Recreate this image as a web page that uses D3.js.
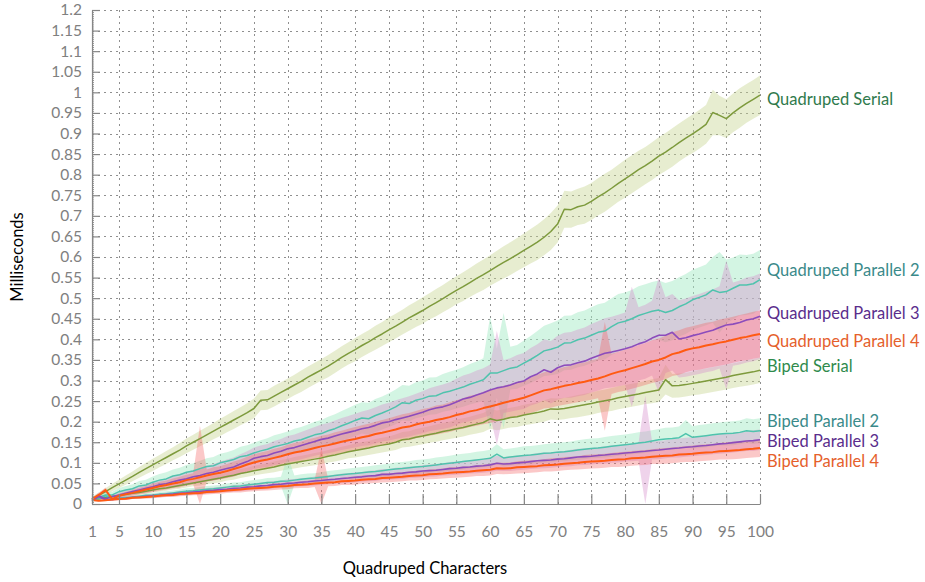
<!DOCTYPE html>
<html>
<head>
<meta charset="utf-8">
<script src="https://cdn.jsdelivr.net/npm/d3@7"></script>
<style>
  body { margin: 0; background: #fff; }
  svg text { font-family: Lato, "Open Sans", sans-serif; }
</style>
</head>
<body>
<svg id="chart" width="925" height="582"></svg>
<script>
// Number of quadruped characters animated (x axis)
const characters = d3.range(1, 101);

// Mean update time in milliseconds, one value per character count
const quadSerial = [
  0.012,0.021,0.030,0.040,0.049,0.058,0.067,0.077,0.086,0.095,
  0.104,0.113,0.122,0.131,0.141,0.150,0.159,0.168,0.177,0.186,
  0.195,0.204,0.213,0.222,0.232,0.252,0.253,0.262,0.271,0.280,
  0.289,0.298,0.308,0.317,0.326,0.335,0.345,0.356,0.366,0.375,
  0.385,0.394,0.404,0.413,0.423,0.432,0.442,0.452,0.461,0.470,
  0.480,0.489,0.499,0.509,0.519,0.528,0.538,0.548,0.557,0.567,
  0.577,0.587,0.596,0.606,0.616,0.626,0.636,0.648,0.662,0.680,
  0.716,0.715,0.722,0.726,0.735,0.746,0.756,0.767,0.779,0.790,
  0.801,0.812,0.822,0.833,0.845,0.855,0.866,0.878,0.889,0.899,
  0.910,0.922,0.951,0.944,0.936,0.950,0.962,0.973,0.983,0.993
];
const quadPar2 = [
  0.012,0.016,0.022,0.022,0.030,0.034,0.037,0.044,0.046,0.053,
  0.058,0.061,0.068,0.071,0.077,0.080,0.086,0.091,0.093,0.100,
  0.104,0.108,0.115,0.118,0.124,0.129,0.133,0.139,0.143,0.147,
  0.153,0.156,0.162,0.168,0.171,0.178,0.183,0.190,0.196,0.203,
  0.209,0.207,0.215,0.221,0.228,0.236,0.246,0.244,0.252,0.256,
  0.262,0.263,0.270,0.274,0.279,0.284,0.291,0.296,0.302,0.318,
  0.318,0.324,0.330,0.333,0.342,0.351,0.361,0.372,0.376,0.381,
  0.391,0.392,0.399,0.403,0.410,0.417,0.420,0.431,0.440,0.444,
  0.450,0.458,0.463,0.468,0.471,0.465,0.470,0.479,0.486,0.496,
  0.502,0.508,0.520,0.514,0.516,0.524,0.532,0.532,0.535,0.545
];
const quadPar3 = [
  0.010,0.020,0.012,0.018,0.022,0.026,0.030,0.034,0.038,0.042,
  0.047,0.049,0.054,0.058,0.061,0.066,0.069,0.074,0.077,0.082,
  0.086,0.090,0.097,0.103,0.111,0.115,0.118,0.124,0.128,0.134,
  0.137,0.142,0.147,0.152,0.157,0.160,0.165,0.170,0.174,0.178,
  0.183,0.186,0.191,0.197,0.200,0.205,0.209,0.213,0.218,0.223,
  0.229,0.233,0.236,0.241,0.248,0.255,0.259,0.265,0.270,0.277,
  0.282,0.285,0.289,0.295,0.299,0.309,0.316,0.326,0.320,0.331,
  0.337,0.338,0.343,0.347,0.354,0.360,0.366,0.369,0.373,0.377,
  0.382,0.389,0.394,0.403,0.410,0.410,0.417,0.401,0.404,0.409,
  0.413,0.418,0.422,0.429,0.435,0.437,0.441,0.447,0.450,0.456
];
const quadPar4 = [
  0.012,0.022,0.034,0.012,0.020,0.024,0.027,0.031,0.035,0.039,
  0.043,0.046,0.050,0.053,0.058,0.061,0.065,0.069,0.073,0.076,
  0.080,0.085,0.090,0.096,0.101,0.105,0.108,0.112,0.116,0.121,
  0.125,0.128,0.132,0.136,0.140,0.143,0.147,0.151,0.155,0.158,
  0.162,0.165,0.170,0.173,0.177,0.181,0.186,0.188,0.193,0.197,
  0.200,0.204,0.207,0.211,0.216,0.220,0.225,0.228,0.233,0.237,
  0.241,0.246,0.250,0.254,0.258,0.264,0.270,0.276,0.279,0.283,
  0.287,0.290,0.294,0.297,0.301,0.305,0.310,0.316,0.321,0.325,
  0.330,0.335,0.340,0.346,0.350,0.356,0.364,0.368,0.374,0.378,
  0.381,0.385,0.388,0.392,0.395,0.399,0.403,0.406,0.410,0.413
];
const bipedSerial = [
  0.010,0.013,0.016,0.018,0.020,0.023,0.026,0.028,0.031,0.034,
  0.037,0.039,0.042,0.045,0.048,0.051,0.054,0.057,0.060,0.063,
  0.067,0.070,0.074,0.077,0.081,0.084,0.087,0.090,0.094,0.097,
  0.100,0.103,0.106,0.109,0.112,0.116,0.119,0.123,0.127,0.130,
  0.133,0.136,0.140,0.143,0.146,0.150,0.156,0.158,0.162,0.165,
  0.169,0.172,0.176,0.179,0.183,0.186,0.190,0.194,0.198,0.207,
  0.203,0.206,0.210,0.212,0.216,0.219,0.222,0.226,0.231,0.230,
  0.232,0.235,0.238,0.241,0.244,0.248,0.251,0.254,0.258,0.261,
  0.264,0.267,0.271,0.274,0.277,0.302,0.287,0.288,0.290,0.293,
  0.296,0.299,0.302,0.305,0.308,0.312,0.315,0.318,0.321,0.325
];
const bipedPar2 = [
  0.008,0.012,0.020,0.012,0.014,0.016,0.017,0.019,0.021,0.022,
  0.024,0.025,0.027,0.029,0.031,0.032,0.034,0.036,0.037,0.039,
  0.041,0.043,0.044,0.046,0.048,0.050,0.052,0.053,0.055,0.056,
  0.058,0.060,0.062,0.063,0.065,0.067,0.069,0.071,0.073,0.074,
  0.076,0.078,0.079,0.081,0.083,0.085,0.086,0.088,0.090,0.091,
  0.093,0.095,0.097,0.099,0.101,0.103,0.105,0.107,0.109,0.111,
  0.121,0.112,0.114,0.116,0.118,0.119,0.121,0.123,0.124,0.126,
  0.127,0.129,0.131,0.133,0.135,0.136,0.138,0.140,0.142,0.144,
  0.146,0.148,0.150,0.153,0.156,0.158,0.159,0.161,0.171,0.162,
  0.164,0.166,0.168,0.170,0.171,0.172,0.174,0.178,0.176,0.178
];
const bipedPar3 = [
  0.008,0.018,0.010,0.011,0.013,0.014,0.016,0.017,0.019,0.020,
  0.021,0.023,0.024,0.026,0.027,0.029,0.030,0.032,0.033,0.035,
  0.036,0.038,0.039,0.041,0.042,0.044,0.045,0.047,0.048,0.050,
  0.051,0.053,0.054,0.056,0.057,0.059,0.060,0.062,0.063,0.065,
  0.066,0.068,0.069,0.072,0.072,0.074,0.075,0.077,0.078,0.080,
  0.081,0.082,0.084,0.086,0.087,0.089,0.090,0.092,0.093,0.095,
  0.099,0.097,0.098,0.100,0.101,0.103,0.105,0.106,0.107,0.109,
  0.110,0.112,0.114,0.115,0.116,0.118,0.119,0.121,0.122,0.124,
  0.125,0.127,0.128,0.130,0.131,0.133,0.135,0.136,0.138,0.139,
  0.141,0.142,0.144,0.146,0.147,0.149,0.151,0.153,0.154,0.156
];
const bipedPar4 = [
  0.010,0.008,0.009,0.011,0.012,0.013,0.015,0.016,0.017,0.018,
  0.020,0.021,0.022,0.024,0.025,0.026,0.027,0.029,0.030,0.031,
  0.033,0.034,0.035,0.037,0.038,0.039,0.040,0.042,0.043,0.044,
  0.046,0.047,0.048,0.050,0.051,0.052,0.053,0.055,0.056,0.057,
  0.059,0.060,0.061,0.063,0.064,0.065,0.066,0.068,0.069,0.070,
  0.072,0.073,0.074,0.076,0.077,0.078,0.079,0.081,0.082,0.083,
  0.087,0.086,0.087,0.089,0.090,0.091,0.092,0.094,0.095,0.096,
  0.098,0.099,0.100,0.102,0.103,0.104,0.105,0.107,0.108,0.109,
  0.111,0.112,0.113,0.115,0.116,0.117,0.118,0.120,0.121,0.122,
  0.124,0.125,0.126,0.128,0.129,0.130,0.131,0.133,0.134,0.136
];

// Standard deviation of the update time (shaded bands)
const quadSerialSd = [
  0.006,0.007,0.008,0.009,0.010,0.011,0.012,0.013,0.014,0.015,
  0.015,0.016,0.016,0.017,0.018,0.018,0.019,0.019,0.020,0.021,
  0.021,0.022,0.022,0.023,0.024,0.024,0.024,0.025,0.025,0.025,
  0.025,0.026,0.026,0.026,0.026,0.027,0.027,0.027,0.027,0.028,
  0.028,0.028,0.029,0.029,0.030,0.030,0.030,0.031,0.031,0.032,
  0.032,0.033,0.033,0.034,0.034,0.035,0.035,0.036,0.037,0.037,
  0.038,0.039,0.040,0.040,0.041,0.042,0.043,0.044,0.045,0.045,
  0.045,0.044,0.044,0.045,0.045,0.045,0.046,0.045,0.045,0.046,
  0.046,0.046,0.045,0.046,0.046,0.046,0.047,0.046,0.046,0.047,
  0.047,0.047,0.055,0.048,0.047,0.047,0.048,0.047,0.047,0.048
];
const quadPar2Sd = [
  0.004,0.005,0.007,0.008,0.009,0.010,0.011,0.012,0.013,0.014,
  0.015,0.016,0.016,0.017,0.018,0.019,0.019,0.020,0.021,0.022,
  0.022,0.023,0.024,0.025,0.025,0.026,0.027,0.028,0.028,0.029,
  0.030,0.031,0.031,0.032,0.033,0.034,0.035,0.036,0.037,0.038,
  0.038,0.039,0.040,0.040,0.041,0.042,0.043,0.043,0.044,0.044,
  0.045,0.045,0.046,0.047,0.047,0.048,0.049,0.050,0.052,0.137,
  0.060,0.140,0.052,0.053,0.055,0.057,0.059,0.061,0.063,0.065,
  0.066,0.066,0.067,0.067,0.068,0.068,0.069,0.069,0.070,0.070,
  0.070,0.071,0.071,0.071,0.072,0.072,0.072,0.072,0.073,0.073,
  0.073,0.074,0.080,0.098,0.078,0.075,0.074,0.073,0.073,0.072
];
const quadPar3Sd = [
  0.003,0.008,0.004,0.005,0.006,0.007,0.008,0.009,0.010,0.011,
  0.012,0.013,0.014,0.015,0.016,0.017,0.018,0.019,0.020,0.021,
  0.022,0.023,0.024,0.025,0.026,0.027,0.028,0.029,0.030,0.031,
  0.032,0.033,0.034,0.035,0.036,0.037,0.038,0.039,0.040,0.041,
  0.042,0.043,0.044,0.045,0.046,0.047,0.048,0.049,0.050,0.051,
  0.052,0.053,0.054,0.055,0.056,0.057,0.058,0.059,0.060,0.062,
  0.138,0.064,0.065,0.067,0.068,0.070,0.072,0.074,0.076,0.078,
  0.079,0.080,0.081,0.082,0.083,0.084,0.085,0.086,0.087,0.088,
  0.146,0.089,0.090,0.091,0.140,0.092,0.093,0.094,0.095,0.096,
  0.097,0.098,0.099,0.100,0.156,0.101,0.102,0.103,0.103,0.104
];
const quadPar4Sd = [
  0.003,0.005,0.006,0.004,0.005,0.006,0.007,0.008,0.009,0.010,
  0.011,0.011,0.012,0.013,0.013,0.014,0.125,0.015,0.016,0.016,
  0.017,0.018,0.018,0.019,0.020,0.020,0.021,0.022,0.022,0.023,
  0.023,0.024,0.025,0.025,0.026,0.026,0.027,0.027,0.028,0.029,
  0.029,0.030,0.030,0.031,0.031,0.032,0.032,0.033,0.033,0.034,
  0.034,0.035,0.035,0.036,0.036,0.037,0.038,0.038,0.039,0.040,
  0.040,0.041,0.041,0.042,0.042,0.043,0.044,0.044,0.045,0.045,
  0.046,0.046,0.047,0.047,0.048,0.048,0.132,0.049,0.049,0.050,
  0.050,0.051,0.051,0.052,0.052,0.053,0.053,0.054,0.054,0.054,
  0.055,0.055,0.055,0.056,0.056,0.056,0.056,0.057,0.057,0.057
];
const bipedSerialSd = [
  0.002,0.003,0.003,0.004,0.004,0.005,0.005,0.005,0.006,0.006,
  0.007,0.007,0.007,0.008,0.008,0.008,0.009,0.009,0.010,0.010,
  0.010,0.011,0.011,0.011,0.012,0.012,0.012,0.013,0.013,0.013,
  0.014,0.014,0.014,0.015,0.015,0.015,0.016,0.016,0.016,0.017,
  0.017,0.017,0.018,0.018,0.018,0.019,0.019,0.019,0.020,0.020,
  0.020,0.021,0.021,0.021,0.022,0.022,0.022,0.023,0.023,0.024,
  0.024,0.024,0.024,0.025,0.025,0.025,0.025,0.026,0.026,0.026,
  0.026,0.026,0.027,0.027,0.027,0.027,0.027,0.028,0.028,0.028,
  0.028,0.028,0.028,0.029,0.029,0.036,0.029,0.029,0.029,0.029,
  0.030,0.030,0.030,0.030,0.030,0.030,0.030,0.031,0.031,0.031
];
const bipedPar2Sd = [
  0.002,0.003,0.004,0.003,0.003,0.004,0.004,0.004,0.005,0.005,
  0.005,0.006,0.006,0.006,0.007,0.007,0.007,0.008,0.008,0.008,
  0.009,0.009,0.009,0.010,0.010,0.010,0.011,0.011,0.011,0.060,
  0.011,0.012,0.012,0.012,0.012,0.013,0.013,0.013,0.013,0.014,
  0.014,0.014,0.015,0.015,0.015,0.016,0.016,0.016,0.017,0.017,
  0.017,0.018,0.018,0.018,0.019,0.019,0.019,0.020,0.020,0.021,
  0.024,0.021,0.021,0.021,0.022,0.022,0.022,0.022,0.023,0.023,
  0.023,0.023,0.024,0.024,0.024,0.024,0.025,0.025,0.025,0.025,
  0.025,0.026,0.026,0.026,0.026,0.027,0.027,0.027,0.033,0.027,
  0.028,0.028,0.028,0.028,0.029,0.029,0.029,0.030,0.030,0.030
];
const bipedPar3Sd = [
  0.002,0.005,0.003,0.003,0.003,0.004,0.004,0.004,0.004,0.005,
  0.005,0.005,0.005,0.006,0.006,0.006,0.006,0.007,0.007,0.007,
  0.007,0.008,0.008,0.008,0.008,0.009,0.009,0.009,0.009,0.010,
  0.010,0.010,0.010,0.011,0.011,0.011,0.011,0.012,0.012,0.012,
  0.012,0.013,0.013,0.013,0.013,0.014,0.014,0.014,0.014,0.015,
  0.015,0.015,0.015,0.016,0.016,0.016,0.016,0.017,0.017,0.017,
  0.018,0.017,0.018,0.018,0.018,0.018,0.019,0.019,0.019,0.019,
  0.019,0.020,0.020,0.020,0.020,0.020,0.021,0.021,0.021,0.021,
  0.021,0.022,0.135,0.022,0.022,0.022,0.022,0.023,0.023,0.023,
  0.023,0.023,0.023,0.024,0.024,0.024,0.024,0.024,0.025,0.025
];
const bipedPar4Sd = [
  0.002,0.002,0.002,0.003,0.003,0.003,0.003,0.003,0.004,0.004,
  0.004,0.004,0.005,0.005,0.005,0.005,0.005,0.006,0.006,0.006,
  0.006,0.006,0.007,0.007,0.007,0.007,0.007,0.008,0.008,0.008,
  0.008,0.008,0.009,0.009,0.085,0.009,0.009,0.009,0.010,0.010,
  0.010,0.010,0.010,0.011,0.011,0.011,0.011,0.011,0.012,0.012,
  0.012,0.012,0.012,0.013,0.013,0.013,0.013,0.013,0.014,0.014,
  0.014,0.014,0.014,0.015,0.015,0.015,0.015,0.015,0.016,0.016,
  0.016,0.016,0.016,0.017,0.017,0.017,0.017,0.017,0.018,0.018,
  0.018,0.018,0.018,0.018,0.019,0.019,0.019,0.019,0.019,0.020,
  0.020,0.020,0.020,0.020,0.021,0.021,0.021,0.021,0.021,0.022
];

const seriesNames = [
  "Quadruped Serial", "Biped Serial",
  "Quadruped Parallel 2", "Biped Parallel 2",
  "Quadruped Parallel 3", "Biped Parallel 3",
  "Quadruped Parallel 4", "Biped Parallel 4"
];
const xTicks = [1,5,10,15,20,25,30,35,40,45,50,55,60,65,70,75,80,85,90,95,100];
const yTicks = [0,0.05,0.1,0.15,0.2,0.25,0.3,0.35,0.4,0.45,0.5,0.55,0.6,
                0.65,0.7,0.75,0.8,0.85,0.9,0.95,1,1.05,1.1,1.15,1.2];

// Styling per series (same order as seriesNames); nudge shifts the end label in px
const styles = [
  { line: "#7d9a3c", band: "#c5d490", bandOpacity: 0.42, label: "#2f7a4c", width: 1.5, nudge: 4 },
  { line: "#7d9a3c", band: "#c5d490", bandOpacity: 0.42, label: "#2f8a4c", width: 1.5, nudge: -4 },
  { line: "#4fc3ad", band: "#a8ecc8", bandOpacity: 0.5,  label: "#3a8a8a", width: 1.5, nudge: -9 },
  { line: "#4fc3ad", band: "#a8ecc8", bandOpacity: 0.5,  label: "#3a8a8a", width: 1.5, nudge: -9.5 },
  { line: "#8c4cbc", band: "#d890cc", bandOpacity: 0.4,  label: "#5a2d8c", width: 1.6, nudge: -3 },
  { line: "#8c4cbc", band: "#d890cc", bandOpacity: 0.4,  label: "#5a2d8c", width: 1.6, nudge: 1.2 },
  { line: "#ff5a12", band: "#f46060", bandOpacity: 0.35, label: "#e5602c", width: 2,   nudge: 7 },
  { line: "#ff5a12", band: "#f46060", bandOpacity: 0.35, label: "#e5602c", width: 2,   nudge: 13 }
];

const means = [quadSerial, bipedSerial, quadPar2, bipedPar2, quadPar3, bipedPar3, quadPar4, bipedPar4];
const sds = [quadSerialSd, bipedSerialSd, quadPar2Sd, bipedPar2Sd, quadPar3Sd, bipedPar3Sd, quadPar4Sd, bipedPar4Sd];

const series = seriesNames.map((name, i) => ({
  name, style: styles[i],
  points: characters.map((c, j) => ({ c, v: means[i][j], sd: sds[i][j] }))
}));

const svg = d3.select("#chart");
const x = d3.scaleLinear().domain([1, 100]).range([92, 760]);
const y = d3.scaleLinear().domain([0, 1.2]).range([504, 10]);

svg.append("defs").append("clipPath").attr("id", "plot-clip")
  .append("rect").attr("x", x(1)).attr("y", y(1.2))
  .attr("width", x(100) - x(1)).attr("height", y(0) - y(1.2));

// dotted grid
const grid = svg.append("g").attr("stroke", "#8f8f8f").attr("stroke-width", 1)
  .attr("stroke-dasharray", "2,4");
grid.selectAll("line.h").data(yTicks.filter(d => d > 0)).join("line")
  .attr("x1", x(1)).attr("x2", x(100))
  .attr("y1", d => Math.round(y(d)) + 0.5).attr("y2", d => Math.round(y(d)) + 0.5);
grid.selectAll("line.v").data(xTicks.filter(d => d > 1)).join("line")
  .attr("y1", y(0)).attr("y2", y(1.2))
  .attr("x1", d => Math.round(x(d)) + 0.5).attr("x2", d => Math.round(x(d)) + 0.5);

// shaded deviation bands
const area = d3.area()
  .x(d => x(d.c))
  .y0(d => y(Math.max(0, d.v - d.sd)))
  .y1(d => y(d.v + d.sd));
const bands = svg.append("g").attr("clip-path", "url(#plot-clip)");
bands.selectAll("path").data(series).join("path")
  .attr("d", s => area(s.points))
  .attr("fill", s => s.style.band)
  .attr("fill-opacity", s => s.style.bandOpacity);

// mean lines
const line = d3.line().x(d => x(d.c)).y(d => y(d.v));
svg.append("g").selectAll("path").data(series).join("path")
  .attr("d", s => line(s.points))
  .attr("fill", "none")
  .attr("stroke", s => s.style.line)
  .attr("stroke-width", s => s.style.width)
  .attr("stroke-linejoin", "round");

// axes
const yMinor = d3.range(0, 1.2001, 0.005);
const yMinorAxis = svg.append("g").attr("transform", `translate(${x(1)},0)`)
  .call(d3.axisLeft(y).tickValues(yMinor).tickSize(-2).tickFormat(""));
yMinorAxis.select(".domain").remove();
yMinorAxis.selectAll("line").attr("stroke", "#9a9a9a");

const yAxis = svg.append("g").attr("transform", `translate(${x(1)},0)`)
  .call(d3.axisLeft(y).tickValues(yTicks).tickSizeInner(-8).tickSizeOuter(0)
    .tickPadding(10).tickFormat(d => String(+d.toFixed(2))));
const xAxis = svg.append("g").attr("transform", `translate(0,${y(0)})`)
  .call(d3.axisBottom(x).tickValues(xTicks).tickSizeInner(-10).tickSizeOuter(0)
    .tickPadding(22));
[yAxis, xAxis].forEach(a => {
  a.select(".domain").attr("stroke", "#868686").attr("stroke-width", 1.2);
  a.selectAll(".tick line").attr("stroke", "#868686").attr("stroke-width", 1.2);
  a.selectAll(".tick text").attr("fill", "#808080").attr("font-size", 15.5)
    .attr("font-family", "Lato, 'Open Sans', sans-serif");
});

// series labels at the right end of each line
svg.append("g").selectAll("text").data(series).join("text")
  .attr("x", 767)
  .attr("y", s => y(s.points[s.points.length - 1].v) + s.style.nudge)
  .attr("dy", "0.35em")
  .attr("fill", s => s.style.label)
  .attr("font-size", 16.5)
  .text(s => s.name);

// axis titles
svg.append("text").attr("x", 425).attr("y", 574).attr("text-anchor", "middle")
  .attr("font-size", 16.5).attr("fill", "#000").text("Quadruped Characters");
svg.append("text").attr("transform", "translate(23,257) rotate(-90)")
  .attr("text-anchor", "middle").attr("font-size", 16.5).attr("fill", "#000")
  .text("Milliseconds");
</script>
</body>
</html>
